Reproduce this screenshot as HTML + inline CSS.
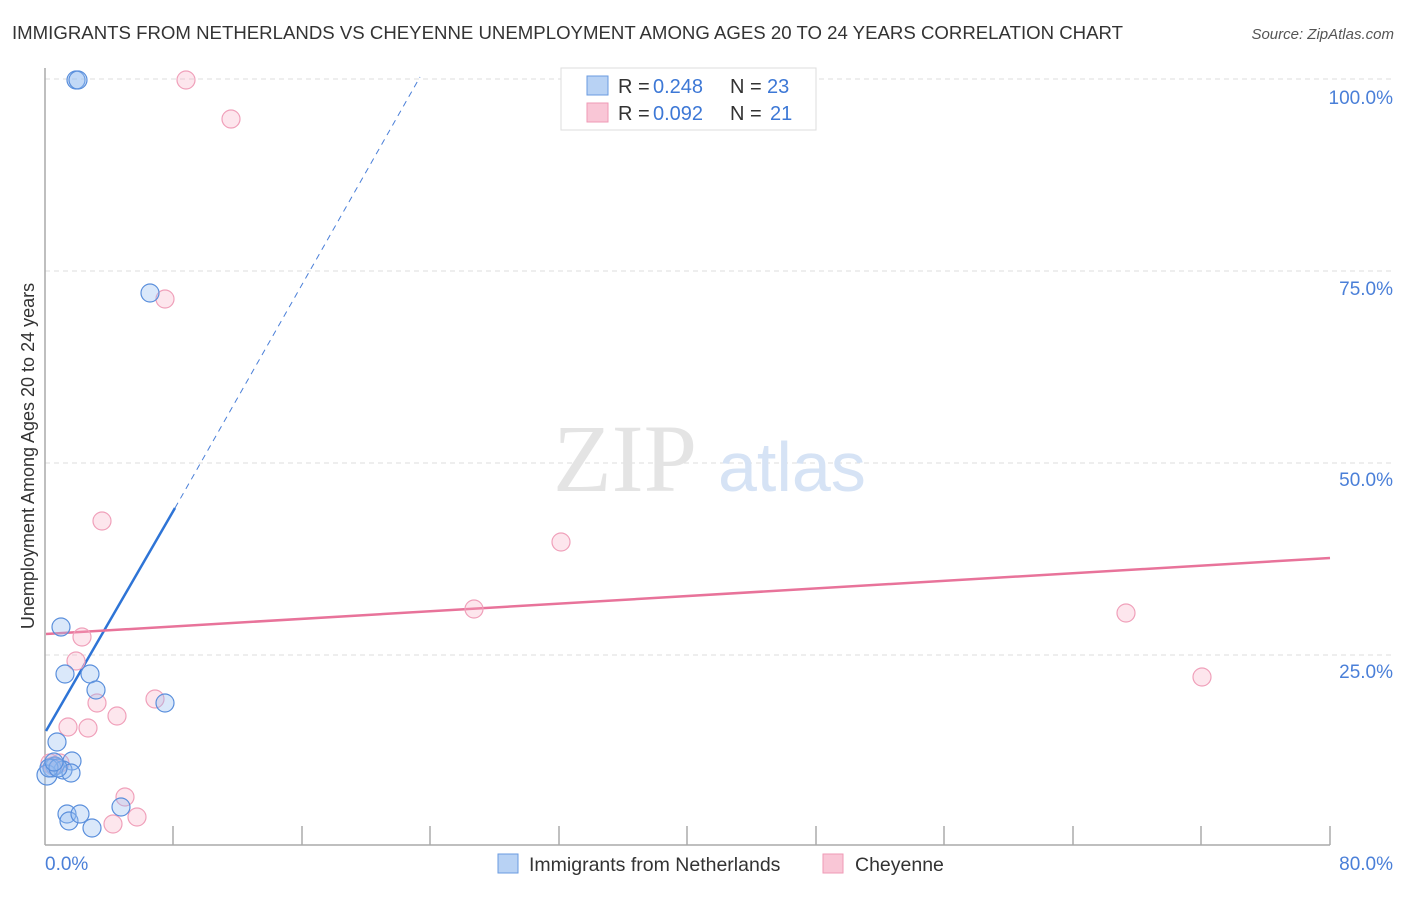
<!DOCTYPE html>
<html><head><meta charset="utf-8"><style>
body{margin:0;background:#fff;font-family:"Liberation Sans",sans-serif;}
</style></head><body>
<svg width="1406" height="892" xmlns="http://www.w3.org/2000/svg" font-family="Liberation Sans, sans-serif">
<text x="12" y="39" font-size="18" fill="#333" textLength="1111" lengthAdjust="spacingAndGlyphs">IMMIGRANTS FROM NETHERLANDS VS CHEYENNE UNEMPLOYMENT AMONG AGES 20 TO 24 YEARS CORRELATION CHART</text>
<text x="1394" y="39" font-size="15" fill="#555" font-style="italic" text-anchor="end">Source: ZipAtlas.com</text>
<g stroke="#ddd" stroke-dasharray="5,4" stroke-width="1">
<line x1="45" y1="79" x2="1394" y2="79"/><line x1="45" y1="271" x2="1394" y2="271"/><line x1="45" y1="463" x2="1394" y2="463"/><line x1="45" y1="655" x2="1394" y2="655"/>
</g>
<g stroke="#aaa" stroke-width="1.5">
<line x1="45" y1="68" x2="45" y2="845"/><line x1="45" y1="845" x2="1330" y2="845"/>
<line x1="173" y1="826" x2="173" y2="845"/><line x1="302" y1="826" x2="302" y2="845"/><line x1="430" y1="826" x2="430" y2="845"/><line x1="559" y1="826" x2="559" y2="845"/><line x1="687" y1="826" x2="687" y2="845"/><line x1="816" y1="826" x2="816" y2="845"/><line x1="944" y1="826" x2="944" y2="845"/><line x1="1073" y1="826" x2="1073" y2="845"/><line x1="1201" y1="826" x2="1201" y2="845"/><line x1="1330" y1="826" x2="1330" y2="845"/>
</g>
<g font-size="19" fill="#4a7fd8" text-anchor="end">
<text x="1393" y="104">100.0%</text><text x="1393" y="295">75.0%</text><text x="1393" y="486">50.0%</text><text x="1393" y="678">25.0%</text>
</g>
<text x="45" y="870" font-size="19" fill="#4a7fd8">0.0%</text>
<text x="1393" y="870" font-size="19" fill="#4a7fd8" text-anchor="end">80.0%</text>
<text transform="translate(34,456) rotate(-90)" font-size="18" fill="#333" text-anchor="middle">Unemployment Among Ages 20 to 24 years</text>
<text x="553" y="491" font-size="96" font-family="Liberation Serif, serif" fill="#e4e4e4">ZIP</text>
<text x="718" y="491" font-size="70" fill="#d6e3f5">atlas</text>
<line x1="175" y1="508" x2="420" y2="77" stroke="#4a7fd8" stroke-width="1" stroke-dasharray="6,5"/>
<line x1="46" y1="731" x2="175" y2="508" stroke="#2e74d6" stroke-width="2.5"/>
<line x1="46" y1="634" x2="1330" y2="558" stroke="#e8739a" stroke-width="2.5"/>
<g fill="rgba(247,172,196,0.3)" stroke="#f0a0ba" stroke-width="1.2">
<circle cx="186" cy="80" r="9"/><circle cx="231" cy="119" r="9"/><circle cx="165" cy="299" r="9"/><circle cx="102" cy="521" r="9"/><circle cx="561" cy="542" r="9"/><circle cx="474" cy="609" r="9"/><circle cx="1126" cy="613" r="9"/><circle cx="1202" cy="677" r="9"/><circle cx="82" cy="637" r="9"/><circle cx="76" cy="661" r="9"/><circle cx="97" cy="703" r="9"/><circle cx="155" cy="699" r="9"/><circle cx="117" cy="716" r="9"/><circle cx="68" cy="727" r="9"/><circle cx="88" cy="728" r="9"/><circle cx="125" cy="797" r="9"/><circle cx="137" cy="817" r="9"/><circle cx="113" cy="824" r="9"/><circle cx="50" cy="763" r="9"/><circle cx="60" cy="763" r="9"/><circle cx="53" cy="766" r="9"/>
</g>
<g fill="rgba(150,190,240,0.35)" stroke="#5a8fdc" stroke-width="1.2">
<circle cx="76" cy="80" r="9"/><circle cx="78" cy="80" r="9"/><circle cx="150" cy="293" r="9"/><circle cx="61" cy="627" r="9"/><circle cx="65" cy="674" r="9"/><circle cx="90" cy="674" r="9"/><circle cx="96" cy="690" r="9"/><circle cx="165" cy="703" r="9"/><circle cx="57" cy="742" r="9"/><circle cx="72" cy="761" r="9"/><circle cx="55" cy="766" r="9"/><circle cx="52" cy="768" r="9"/><circle cx="63" cy="770" r="9"/><circle cx="71" cy="773" r="9"/><circle cx="47" cy="775" r="10"/><circle cx="67" cy="814" r="9"/><circle cx="69" cy="821" r="9"/><circle cx="80" cy="814" r="9"/><circle cx="92" cy="828" r="9"/><circle cx="121" cy="807" r="9"/><circle cx="49" cy="768" r="9"/><circle cx="58" cy="768" r="9"/><circle cx="54" cy="762" r="9"/>
</g>
<rect x="561" y="68" width="255" height="62" fill="#fff" stroke="#ddd"/>
<rect x="587" y="76" width="21" height="19" fill="#b8d2f4" stroke="#6a9be0"/>
<rect x="587" y="103" width="21" height="19" fill="#f9c6d6" stroke="#ef9ab6"/>
<g font-size="20">
<text x="618" y="93" fill="#333">R = </text><text x="653" y="93" fill="#3d78d6">0.248</text><text x="730" y="93" fill="#333">N = </text><text x="767" y="93" fill="#3d78d6">23</text>
<text x="618" y="120" fill="#333">R = </text><text x="653" y="120" fill="#3d78d6">0.092</text><text x="730" y="120" fill="#333">N = </text><text x="770" y="120" fill="#3d78d6">21</text>
</g>
<rect x="498" y="854" width="20" height="19" fill="#b8d2f4" stroke="#6a9be0"/>
<text x="529" y="871" font-size="19.5" fill="#333">Immigrants from Netherlands</text>
<rect x="823" y="854" width="20" height="19" fill="#f9c6d6" stroke="#ef9ab6"/>
<text x="855" y="871" font-size="19.5" fill="#333">Cheyenne</text>
</svg>
</body></html>
